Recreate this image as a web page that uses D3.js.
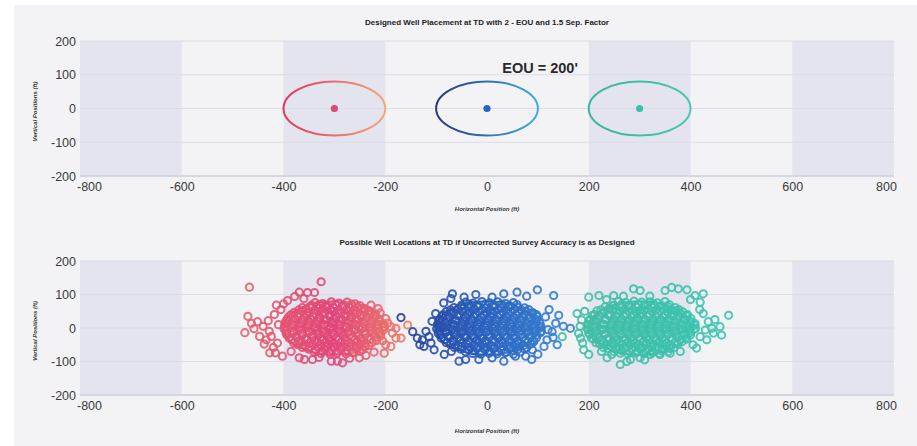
<!DOCTYPE html>
<html>
<head>
<meta charset="utf-8">
<script src="https://cdn.jsdelivr.net/npm/d3@7"></script>
<style>
  html, body { margin: 0; padding: 0; background: #ffffff; }
  svg { display: block; font-family: "Liberation Sans", Arial, sans-serif; }
</style>
</head>
<body>
<svg id="chart" width="917" height="446"></svg>
<script>
// ---- data ----
const xTicks = [-800, -600, -400, -200, 0, 200, 400, 600, 800];
const yTicks = [-200, -100, 0, 100, 200];
const shadedBands = [[-800, -600], [-400, -200], [200, 400], [600, 800]];
const wellNames = ["west", "center", "east"];
const wellCenters = [-300, 0, 300];
const eouHalfWidth = 100;   // ft, horizontal semi-axis of the uncertainty ellipse
const eouHalfHeight = 80;   // ft, vertical semi-axis
const topTitle = "Designed Well Placement at TD with 2 - EOU and 1.5 Sep. Factor";
const bottomTitle = "Possible Well Locations at TD if Uncorrected Survey Accuracy is as Designed";
const xTitle = "Horizontal Position (ft)";
const yTitle = "Vertical Positions (ft)";
const eouLabel = "EOU = 200'";

const westPoints = [
  [-338,76],[-323,73],[-306,78],[-291,74],[-275,77],[-259,72],
  [-363,61],[-348,64],[-330,60],[-317,63],[-301,60],[-284,65],[-269,61],[-254,63],[-241,59],
  [-379,47],[-363,50],[-350,46],[-332,49],[-319,45],[-303,50],[-286,47],[-272,49],[-255,45],[-242,48],[-227,46],
  [-390,33],[-373,36],[-359,32],[-342,35],[-328,31],[-310,36],[-297,33],[-279,35],[-266,31],[-248,34],[-235,32],[-220,35],
  [-396,19],[-381,22],[-364,18],[-351,21],[-333,19],[-320,23],[-302,18],[-289,21],[-271,19],[-258,22],[-241,18],[-227,21],[-210,19],
  [-398,5],[-381,8],[-368,4],[-351,7],[-338,5],[-320,8],[-307,4],[-289,7],[-276,5],[-258,8],[-245,4],[-227,6],[-214,8],[-202,4],
  [-395,-7],[-382,-10],[-365,-6],[-351,-9],[-334,-7],[-320,-10],[-303,-6],[-290,-9],[-272,-8],[-259,-5],[-241,-9],[-228,-7],[-211,-10],[-203,-6],
  [-393,-21],[-376,-24],[-363,-20],[-345,-23],[-332,-21],[-314,-24],[-301,-20],[-283,-23],[-270,-21],[-252,-24],[-239,-20],[-221,-22],[-209,-24],
  [-384,-35],[-370,-38],[-353,-34],[-339,-37],[-322,-35],[-309,-38],[-291,-34],[-278,-37],[-260,-35],[-247,-38],[-229,-34],[-217,-37],
  [-373,-49],[-356,-52],[-342,-48],[-325,-51],[-311,-49],[-294,-52],[-280,-48],[-263,-51],[-249,-49],[-232,-52],
  [-351,-63],[-337,-66],[-320,-62],[-306,-65],[-289,-63],[-275,-66],[-258,-62],[-245,-65],
  [-326,-76],[-308,-78],[-295,-75],[-277,-77],[-264,-74],
  [-345,68],[-330,70],[-314,67],[-298,70],[-282,68],[-266,71],[-250,67],
  [-370,54],[-355,56],[-339,53],[-323,57],[-308,55],[-292,53],[-276,56],[-261,54],[-246,57],[-233,53],
  [-385,40],[-370,42],[-355,39],[-340,43],[-324,41],[-309,39],[-293,42],[-278,40],[-263,43],[-247,39],[-232,41],[-219,42],
  [-393,26],[-378,28],[-362,25],[-347,29],[-331,27],[-316,25],[-300,28],[-285,26],[-269,29],[-254,25],[-238,27],[-223,28],[-212,26],
  [-397,12],[-382,14],[-367,11],[-351,15],[-336,13],[-320,11],[-305,14],[-289,12],[-274,15],[-258,11],[-243,13],[-228,14],[-213,12],[-204,13],
  [-399,-2],[-384,0],[-369,-3],[-353,1],[-338,-1],[-322,-3],[-307,0],[-291,-2],[-276,1],[-260,-3],[-245,-1],[-230,0],[-215,-2],[-205,1],
  [-395,-16],[-380,-14],[-364,-17],[-349,-13],[-333,-15],[-318,-17],[-302,-14],[-287,-16],[-271,-13],[-256,-17],[-240,-15],[-225,-14],[-211,-16],
  [-389,-30],[-373,-28],[-358,-31],[-342,-27],[-327,-29],[-311,-31],[-296,-28],[-280,-30],[-265,-27],[-249,-31],[-234,-29],[-219,-28],
  [-380,-44],[-364,-42],[-349,-45],[-333,-41],[-318,-43],[-302,-45],[-287,-42],[-271,-44],[-256,-41],[-240,-45],[-226,-43],
  [-363,-58],[-348,-56],[-332,-59],[-317,-55],[-301,-57],[-286,-59],[-270,-56],[-255,-58],[-240,-55],
  [-340,-71],[-324,-69],[-309,-72],[-293,-68],[-278,-70],[-262,-72],[-250,-69],
  [-467,122],[-326,138],[-378,94],[-369,107],[-353,106],[-339,106],[-414,68],[-400,72],[-392,82],[-360,88],
  [-470,35],[-476,-14],[-463,14],[-451,19],[-447,-25],[-434,-35],[-424,-25],[-458,-2],[-440,5],[-430,22],
  [-418,40],[-428,-10],[-412,-45],[-410,10],[-438,-48],[-420,-58],[-405,55],
  [-427,-74],[-416,-74],[-402,-84],[-369,-89],[-359,-94],[-343,-94],[-306,-99],[-294,-99],[-284,-104],[-251,-89],
  [-385,-70],[-330,-88],[-270,-90],[-238,-82],[-222,-72],
  [-202,-75],[-199,-50],[-189,-55],[-179,-30],[-189,4],[-199,28],[-179,-1],[-156,9],[-169,-30],[-210,45],
  [-195,15],[-186,-15],[-205,-38],[-214,58],[-228,68]
];

const centerPoints = [
  [-42,77],[-27,74],[-10,79],[5,75],[21,78],[37,73],[52,76],
  [-65,61],[-50,65],[-34,62],[-18,64],[-2,60],[13,63],[29,61],[45,64],[60,62],[74,60],
  [-80,49],[-65,46],[-49,50],[-33,47],[-17,49],[-1,45],[15,50],[31,47],[47,48],[62,45],[77,49],[90,46],
  [-89,35],[-73,32],[-58,36],[-42,33],[-26,35],[-10,31],[6,36],[22,33],[38,34],[54,31],[70,35],[85,32],[99,34],
  [-94,21],[-78,18],[-62,22],[-46,19],[-30,21],[-14,17],[2,22],[18,19],[34,20],[50,17],[66,21],[82,18],[97,21],
  [-96,7],[-80,4],[-64,8],[-48,5],[-32,6],[-16,3],[0,8],[16,5],[32,6],[48,3],[64,7],[80,4],[95,7],[106,5],
  [-95,-7],[-79,-10],[-63,-6],[-47,-9],[-31,-8],[-15,-11],[1,-6],[17,-9],[33,-8],[49,-10],[65,-6],[81,-9],[96,-7],[107,-10],
  [-92,-21],[-76,-24],[-60,-20],[-44,-23],[-28,-22],[-12,-25],[4,-20],[20,-23],[36,-21],[52,-24],[68,-20],[84,-23],[98,-21],
  [-84,-35],[-68,-38],[-52,-34],[-36,-37],[-20,-35],[-4,-38],[12,-34],[28,-37],[44,-35],[60,-38],[76,-34],[90,-37],
  [-72,-49],[-56,-52],[-40,-48],[-24,-51],[-8,-49],[8,-52],[24,-48],[40,-51],[56,-49],[72,-52],[86,-48],
  [-52,-63],[-36,-66],[-20,-62],[-4,-65],[12,-63],[28,-66],[44,-62],[60,-65],[74,-63],
  [-28,-76],[-12,-78],[4,-75],[20,-77],[36,-74],[52,-78],
  [-50,68],[-35,71],[-19,67],[-3,70],[13,68],[29,71],[44,67],[59,70],
  [-72,54],[-57,57],[-41,53],[-25,56],[-9,55],[7,53],[23,57],[39,54],[54,56],[68,53],[82,55],
  [-86,40],[-71,43],[-55,39],[-39,42],[-23,41],[-7,39],[9,43],[25,40],[41,42],[57,39],[73,41],[88,43],[97,40],
  [-93,26],[-78,29],[-62,25],[-46,28],[-30,27],[-14,25],[2,29],[18,26],[34,28],[50,25],[66,27],[82,29],[96,26],
  [-97,12],[-82,15],[-66,11],[-50,14],[-34,13],[-18,11],[-2,15],[14,12],[30,14],[46,11],[62,13],[78,15],[92,12],[104,14],
  [-99,-2],[-84,1],[-68,-3],[-52,0],[-36,-1],[-20,-3],[-4,1],[12,-2],[28,0],[44,-3],[60,-1],[76,1],[91,-2],[104,0],
  [-96,-16],[-81,-13],[-65,-17],[-49,-14],[-33,-15],[-17,-17],[-1,-13],[15,-16],[31,-14],[47,-17],[63,-15],[79,-13],[93,-16],[105,-14],
  [-90,-30],[-75,-27],[-59,-31],[-43,-28],[-27,-29],[-11,-31],[5,-27],[21,-30],[37,-28],[53,-31],[69,-29],[85,-27],[97,-30],
  [-80,-44],[-65,-41],[-49,-45],[-33,-42],[-17,-43],[-1,-45],[15,-41],[31,-44],[47,-42],[63,-45],[79,-43],[92,-41],
  [-64,-58],[-49,-55],[-33,-59],[-17,-56],[-1,-57],[15,-59],[31,-55],[47,-58],[63,-56],[78,-59],
  [-42,-71],[-27,-68],[-11,-72],[5,-69],[21,-70],[37,-72],[53,-68],[66,-71],
  [99,114],[131,97],[59,107],[-68,102],[-22,100],[33,102],[-71,88],[-85,75],[10,92],[78,95],[-45,92],
  [-169,31],[-146,-11],[-137,-30],[-127,-35],[-124,-55],[-114,-26],[-110,-45],[-104,-65],[-101,43],[-91,4],
  [-120,-10],[-108,20],[-132,-50],
  [141,38],[135,14],[164,-1],[138,-50],[128,-11],[115,33],[118,-35],[122,55],[112,-55],[130,-28],[150,5],[120,-5],
  [89,-65],[76,-84],[88,-94],[33,-99],[-16,-94],[10,-89],[-42,-94],[-55,-99],[-84,-79],[56,-84],[-70,-70],[100,-78]
];

const eastPoints = [
  [258,79],[273,76],[289,80],[304,77],[320,78],[335,75],[350,79],
  [232,63],[247,66],[263,62],[278,65],[294,63],[309,66],[325,62],[340,65],[356,63],[370,61],
  [216,51],[231,48],[247,52],[262,49],[278,50],[293,47],[309,52],[324,49],[340,50],[355,47],[371,51],[385,48],
  [207,37],[222,34],[238,38],[253,35],[269,36],[284,33],[300,38],[315,35],[331,36],[346,33],[362,37],[377,34],[392,36],
  [201,23],[216,20],[232,24],[247,21],[263,22],[278,19],[294,24],[309,21],[325,22],[340,19],[356,23],[371,20],[387,23],[400,20],
  [198,9],[213,6],[229,10],[244,7],[260,8],[275,5],[291,10],[306,7],[322,8],[337,5],[353,9],[368,6],[384,9],[398,6],[408,8],
  [199,-5],[214,-8],[230,-4],[245,-7],[261,-6],[276,-9],[292,-4],[307,-7],[323,-6],[338,-9],[354,-5],[369,-8],[385,-5],[399,-8],[407,-4],
  [202,-19],[217,-22],[233,-18],[248,-21],[264,-20],[279,-23],[295,-18],[310,-21],[326,-20],[341,-23],[357,-19],[372,-22],[388,-19],[400,-21],
  [209,-33],[224,-36],[240,-32],[255,-35],[271,-34],[286,-37],[302,-32],[317,-35],[333,-34],[348,-37],[364,-33],[379,-36],[393,-33],
  [221,-47],[236,-50],[252,-46],[267,-49],[283,-48],[298,-51],[314,-46],[329,-49],[345,-48],[360,-51],[375,-47],
  [238,-61],[253,-64],[269,-60],[284,-63],[300,-62],[315,-65],[331,-60],[346,-63],[360,-61],
  [262,-75],[277,-77],[293,-74],[308,-76],[324,-73],[339,-77],
  [250,68],[265,71],[281,67],[297,70],[312,68],[328,71],[343,67],[358,70],
  [224,54],[239,57],[255,53],[270,56],[286,55],[301,53],[317,57],[332,54],[348,56],[363,53],[377,55],
  [211,40],[226,43],[242,39],[257,42],[273,41],[288,39],[304,43],[319,40],[335,42],[350,39],[366,41],[381,43],[394,40],
  [203,26],[218,29],[234,25],[249,28],[265,27],[280,25],[296,29],[311,26],[327,28],[342,25],[358,27],[373,29],[389,26],[401,28],
  [199,12],[214,15],[230,11],[245,14],[261,13],[276,11],[292,15],[307,12],[323,14],[338,11],[354,13],[369,15],[385,12],[400,14],[409,13],
  [197,-2],[212,1],[228,-3],[243,0],[259,-1],[274,-3],[290,1],[305,-2],[321,0],[336,-3],[352,-1],[367,1],[383,-2],[398,0],[410,-1],
  [200,-16],[215,-13],[231,-17],[246,-14],[262,-15],[277,-17],[293,-13],[308,-16],[324,-14],[339,-17],[355,-15],[370,-13],[386,-16],[399,-14],
  [205,-30],[220,-27],[236,-31],[251,-28],[267,-29],[282,-31],[298,-27],[313,-30],[329,-28],[344,-31],[360,-29],[375,-27],[390,-30],
  [214,-44],[229,-41],[245,-45],[260,-42],[276,-43],[291,-45],[307,-41],[322,-44],[338,-42],[353,-45],[369,-43],[383,-41],
  [229,-58],[244,-55],[260,-59],[275,-56],[291,-57],[306,-59],[322,-55],[337,-58],[353,-56],[367,-59],
  [250,-71],[265,-68],[281,-72],[296,-69],[312,-70],[327,-72],[343,-68],[356,-71],
  [288,117],[301,112],[350,112],[363,121],[376,117],[393,114],[409,97],[425,102],[419,77],[200,92],
  [220,97],[249,97],[235,85],[268,95],[320,95],[400,85],
  [475,38],[435,19],[442,-1],[458,4],[461,-21],[429,-6],[419,-26],[425,43],[412,-60],[405,-50],
  [448,25],[432,-35],[418,55],[445,-15],
  [177,43],[186,24],[180,-16],[184,-30],[190,-65],[200,-79],[183,5],[192,50],[188,-45],[148,-26],
  [236,-89],[262,-109],[282,-94],[301,-89],[321,-79],[340,-79],[245,-79],[275,-100],[310,-95],[225,-70],
  [360,-75],[380,-70]
];

// colour ramps (left, middle, right) for each well
const wellColors = [
  ["#e4606c", "#e2447a", "#ef8a62"],
  ["#26409a", "#2a62c0", "#3a86d2"],
  ["#44bea2", "#3dc0aa", "#3cc4b2"]
];
const ellipseStops = [
  ["#e0365c", "#f2a878"],
  ["#2a3486", "#3caee0"],
  ["#3ab49c", "#48c8b0"]
];

// ---- layout ----
const svg = d3.select("#chart");
const W = 917, H = 446;
const plotLeft = 80, plotRight = 894;
const panels = [
  { top: 41, bottom: 176, title: topTitle, titleY: 25, xTitleY: 211 },
  { top: 261, bottom: 395, title: bottomTitle, titleY: 245, xTitleY: 433 }
];

svg.append("rect").attr("x", 14).attr("y", 5).attr("width", W - 14).attr("height", H - 5)
  .attr("fill", "#f3f3f6");

const x = d3.scaleLinear().domain([-800, 800]).range([plotLeft, plotRight]);

const defs = svg.append("defs");
wellCenters.forEach((c, i) => {
  const g = defs.append("linearGradient").attr("id", "eg" + i)
    .attr("gradientUnits", "userSpaceOnUse")
    .attr("x1", x(c - eouHalfWidth)).attr("x2", x(c + eouHalfWidth))
    .attr("y1", 0).attr("y2", 0);
  g.append("stop").attr("offset", "0%").attr("stop-color", ellipseStops[i][0]);
  g.append("stop").attr("offset", "100%").attr("stop-color", ellipseStops[i][1]);
});

function pointColor(i, px) {
  const c = wellCenters[i];
  const s = d3.scaleLinear().domain([c - 170, c, c + 170]).range(wellColors[i])
    .interpolate(d3.interpolateRgb).clamp(true);
  return s(px);
}

const fmt = d => String(d);

panels.forEach((p, pi) => {
  const y = d3.scaleLinear().domain([-200, 200]).range([p.bottom, p.top]);
  const g = svg.append("g");

  // shaded bands
  g.selectAll("rect.band").data(shadedBands).join("rect")
    .attr("class", "band")
    .attr("x", d => x(d[0])).attr("width", d => x(d[1]) - x(d[0]))
    .attr("y", p.top).attr("height", p.bottom - p.top)
    .attr("fill", "#e4e4ee");

  // horizontal gridlines
  g.selectAll("line.grid").data(yTicks).join("line")
    .attr("class", "grid")
    .attr("x1", plotLeft).attr("x2", plotRight)
    .attr("y1", d => y(d)).attr("y2", d => y(d))
    .attr("stroke", d => d === -200 ? "#d6d6e0" : "#dcdce6")
    .attr("stroke-width", d => d === -200 ? 2 : 1.2);

  // axes
  const xa = g.append("g").attr("transform", `translate(0,${p.bottom})`)
    .call(d3.axisBottom(x).tickValues(xTicks).tickSize(0).tickPadding(6).tickFormat(fmt));
  xa.select(".domain").remove();
  xa.selectAll("text").attr("font-size", 12.5).attr("fill", "#3a3a3a")
    .attr("font-family", "'Liberation Sans', Arial, sans-serif")
    .attr("dx", d => d === -800 ? 9 : d === 800 ? -8 : 0);

  const ya = g.append("g").attr("transform", `translate(${plotLeft},0)`)
    .call(d3.axisLeft(y).tickValues(yTicks).tickSize(0).tickPadding(4).tickFormat(fmt));
  ya.select(".domain").remove();
  ya.selectAll("text").attr("font-size", 12.5).attr("fill", "#3a3a3a")
    .attr("font-family", "'Liberation Sans', Arial, sans-serif");

  // titles
  g.append("text").attr("x", x(0)).attr("y", p.titleY).attr("text-anchor", "middle")
    .attr("font-size", 8).attr("font-weight", "bold").attr("fill", "#222").text(p.title);
  g.append("text").attr("x", x(0)).attr("y", p.xTitleY).attr("text-anchor", "middle")
    .attr("font-size", 6).attr("font-weight", "bold").attr("font-style", "italic")
    .attr("fill", "#333").text(xTitle);
  const cy = (p.top + p.bottom) / 2 + 3;
  g.append("text").attr("transform", `translate(37,${cy}) rotate(-90)`)
    .attr("text-anchor", "middle")
    .attr("font-size", 6).attr("font-weight", "bold").attr("font-style", "italic")
    .attr("fill", "#333").text(yTitle);

  // uncertainty ellipses
  g.selectAll("ellipse.eou").data(wellCenters).join("ellipse")
    .attr("class", "eou")
    .attr("cx", d => x(d)).attr("cy", y(0))
    .attr("rx", d => x(d + eouHalfWidth) - x(d))
    .attr("ry", y(0) - y(eouHalfHeight))
    .attr("fill", "none")
    .attr("stroke", (d, i) => `url(#eg${i})`)
    .attr("stroke-width", 2);

  if (pi === 0) {
    // designed well positions
    g.selectAll("circle.well").data(wellCenters).join("circle")
      .attr("class", "well")
      .attr("cx", d => x(d)).attr("cy", y(0)).attr("r", 3.6)
      .attr("fill", (d, i) => wellColors[i][1]);
    g.append("text").attr("x", x(30)).attr("y", y(105))
      .attr("font-size", 14.5).attr("font-weight", "bold").attr("fill", "#2a2a2a")
      .text(eouLabel);
  } else {
    // possible positions
    [westPoints, centerPoints, eastPoints].forEach((pts, i) => {
      g.append("g").attr("class", wellNames[i])
        .selectAll("circle").data(pts).join("circle")
        .attr("cx", d => x(d[0])).attr("cy", d => y(d[1])).attr("r", 3.6)
        .attr("fill", "none")
        .attr("stroke", d => pointColor(i, d[0]))
        .attr("stroke-opacity", 0.9)
        .attr("stroke-width", 2);
    });
  }
});
</script>
</body>
</html>
